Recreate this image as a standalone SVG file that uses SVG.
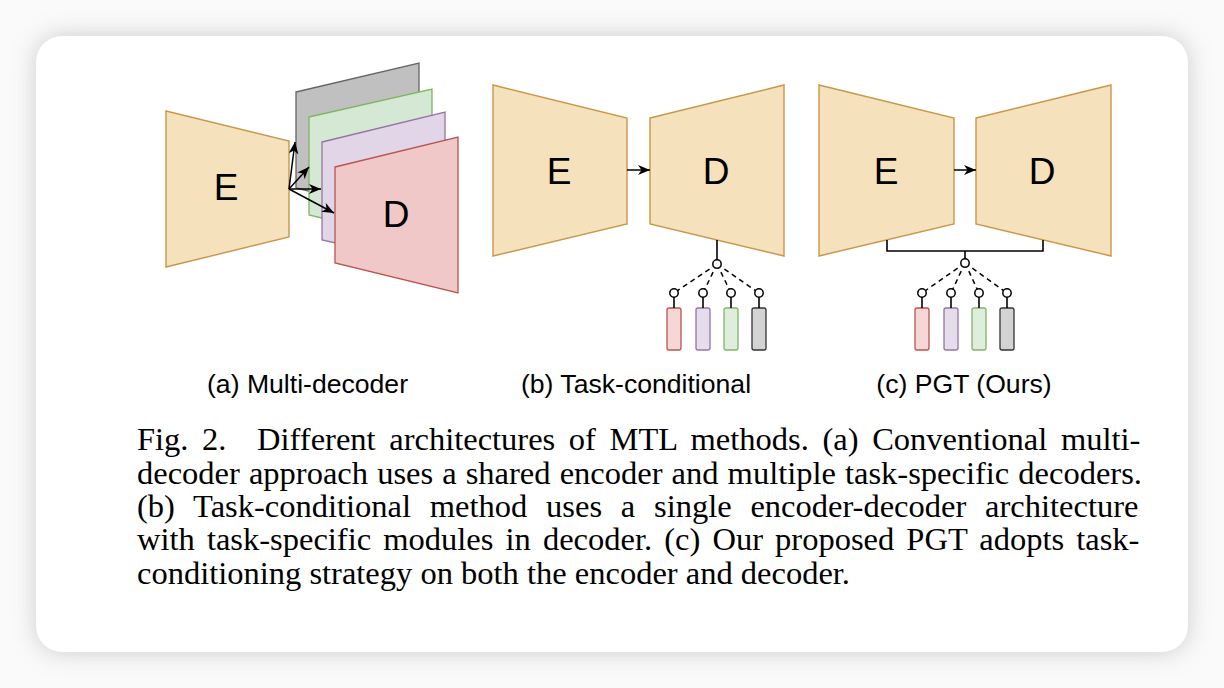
<svg xmlns="http://www.w3.org/2000/svg" width="1224" height="688" viewBox="0 0 1224 688">
<defs>
<filter id="sh" x="-10%" y="-10%" width="120%" height="120%">
<feGaussianBlur stdDeviation="12"/>
</filter>
<marker id="ah" viewBox="0 0 12 10" refX="12" refY="5" markerWidth="12" markerHeight="10" markerUnits="userSpaceOnUse" orient="auto">
<path d="M0,0 L12,5 L0,10 L3.5,5 Z" fill="#000"/>
</marker>
<style>
.trap{fill:#f5e1bc;stroke:#c8974a;stroke-width:1.4}
.ed{font-family:"Liberation Sans",Arial,sans-serif;font-size:37px;fill:#000;text-anchor:middle}
.lbl{font-family:"Liberation Sans",Arial,sans-serif;font-size:26.6px;fill:#000;text-anchor:middle}
.cap{font-family:"Liberation Serif","Times New Roman",serif;font-size:32.5px;fill:#000}
.ln{stroke:#000;stroke-width:1.6;fill:none}
.dash{stroke:#000;stroke-width:1.5;stroke-dasharray:5,4;fill:none}
.dot{fill:#fff;stroke:#000;stroke-width:1.5}
.arr{stroke:#000;stroke-width:1.5;fill:none;marker-end:url(#ah)}
.mr{stroke:#b85450;fill:#f5d7d6;stroke-width:1.3}
.mp{stroke:#9673a6;fill:#e5dcec;stroke-width:1.3}
.mg{stroke:#82b366;fill:#deeddc;stroke-width:1.3}
.mk{stroke:#333;fill:#d3d3d3;stroke-width:1.3}
</style>
</defs>
<rect width="1224" height="688" fill="#fafafa"/>
<rect x="36" y="36" width="1152" height="616" rx="26" fill="#b8b8b8" filter="url(#sh)" opacity="0.7"/>
<rect x="36" y="36" width="1152" height="616" rx="26" fill="#fff"/>

<g id="a-encoder">
<polygon class="trap" points="166,111 289,141 289,237 166,267"/>
<text class="ed" x="226" y="200">E</text>
</g>
<g id="a-decoders">
<polygon points="296,92 419,63 419,219 296,188" fill="#c0c0c0" stroke="#666" stroke-width="1.3"/>
<polygon points="309,117 432,89 432,245 309,215" fill="#d5e8d4" stroke="#82b366" stroke-width="1.3"/>
<polygon points="322,142 445,112 445,268 322,240" fill="#e1d5e7" stroke="#9673a6" stroke-width="1.3"/>
<polygon points="335,167 458,137 458,293 335,263" fill="#f0c8c7" stroke="#b85450" stroke-width="1.3"/>
<text class="ed" x="396" y="227">D</text>
</g>

<g id="b-encoder">
<polygon class="trap" points="493,85 627,118 627,224 493,256"/>
<text class="ed" x="559" y="184">E</text>
</g>
<g id="b-decoder">
<polygon class="trap" points="650,118 784,85 784,256 650,224"/>
<text class="ed" x="716" y="184">D</text>
</g>

<g id="c-encoder">
<polygon class="trap" points="819,85 954,118 954,224 819,256"/>
<text class="ed" x="886" y="184">E</text>
</g>
<g id="c-decoder">
<polygon class="trap" points="976,118 1111,85 1111,256 976,224"/>
<text class="ed" x="1042" y="184">D</text>
</g>

<g id="b-modules">
<rect class="mr" x="667" y="308" width="14" height="42" rx="2"/>
<rect class="mp" x="696" y="308" width="14" height="42" rx="2"/>
<rect class="mg" x="724" y="308" width="14" height="42" rx="2"/>
<rect class="mk" x="752" y="308" width="14" height="42" rx="2"/>
</g>
<g id="c-modules">
<rect class="mr" x="915" y="308" width="14" height="42" rx="2"/>
<rect class="mp" x="944" y="308" width="14" height="42" rx="2"/>
<rect class="mg" x="972" y="308" width="14" height="42" rx="2"/>
<rect class="mk" x="1000" y="308" width="14" height="42" rx="2"/>
</g>

<g id="connectors">
<line class="arr" x1="289" y1="189" x2="295" y2="142"/>
<line class="arr" x1="289" y1="189" x2="309" y2="167"/>
<line class="arr" x1="289" y1="189" x2="321" y2="189"/>
<line class="arr" x1="289" y1="189" x2="334" y2="213"/>
<line class="arr" x1="627" y1="170" x2="650" y2="170"/>
<line class="arr" x1="954" y1="170" x2="976" y2="170"/>

<line class="ln" x1="717" y1="240" x2="717" y2="264"/>
<line class="dash" x1="717" y1="264" x2="674" y2="293"/>
<line class="dash" x1="717" y1="264" x2="703" y2="293"/>
<line class="dash" x1="717" y1="264" x2="731" y2="293"/>
<line class="dash" x1="717" y1="264" x2="759" y2="293"/>
<line class="ln" x1="674" y1="293" x2="674" y2="308"/>
<line class="ln" x1="703" y1="293" x2="703" y2="308"/>
<line class="ln" x1="731" y1="293" x2="731" y2="308"/>
<line class="ln" x1="759" y1="293" x2="759" y2="308"/>
<circle class="dot" cx="717" cy="264" r="4.2"/>
<circle class="dot" cx="674" cy="293" r="4.2"/>
<circle class="dot" cx="703" cy="293" r="4.2"/>
<circle class="dot" cx="731" cy="293" r="4.2"/>
<circle class="dot" cx="759" cy="293" r="4.2"/>

<path class="ln" d="M887,240 V251 H1043 V240"/>
<line class="ln" x1="965" y1="251" x2="965" y2="263"/>
<line class="dash" x1="965" y1="263" x2="922" y2="293"/>
<line class="dash" x1="965" y1="263" x2="951" y2="293"/>
<line class="dash" x1="965" y1="263" x2="979" y2="293"/>
<line class="dash" x1="965" y1="263" x2="1007" y2="293"/>
<line class="ln" x1="922" y1="293" x2="922" y2="308"/>
<line class="ln" x1="951" y1="293" x2="951" y2="308"/>
<line class="ln" x1="979" y1="293" x2="979" y2="308"/>
<line class="ln" x1="1007" y1="293" x2="1007" y2="308"/>
<circle class="dot" cx="965" cy="263" r="4.2"/>
<circle class="dot" cx="922" cy="293" r="4.2"/>
<circle class="dot" cx="951" cy="293" r="4.2"/>
<circle class="dot" cx="979" cy="293" r="4.2"/>
<circle class="dot" cx="1007" cy="293" r="4.2"/>
</g>

<g id="labels">
<text class="lbl" x="307.5" y="393">(a) Multi-decoder</text>
<text class="lbl" x="636" y="393">(b) Task-conditional</text>
<text class="lbl" x="964" y="393">(c) PGT (Ours)</text>
</g>

<g id="caption" class="cap">
<text y="450"><tspan x="137">Fig.</tspan><tspan x="202.1">2.</tspan><tspan x="257.1" word-spacing="5.5">Different architectures of MTL methods. (a) Conventional multi-</tspan></text>
<text x="137" y="483.5" word-spacing="0.97">decoder approach uses a shared encoder and multiple task-specific decoders.</text>
<text x="137" y="517" word-spacing="10.65">(b) Task-conditional method uses a single encoder-decoder architecture</text>
<text x="137" y="550" word-spacing="4.0">with task-specific modules in decoder. (c) Our proposed PGT adopts task-</text>
<text x="137" y="583.5">conditioning strategy on both the encoder and decoder.</text>
</g>
</svg>
